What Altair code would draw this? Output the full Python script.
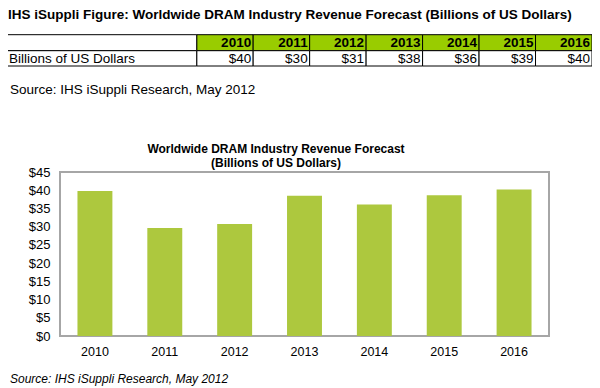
import altair as alt
import pandas as pd

years = ["2010", "2011", "2012", "2013", "2014", "2015", "2016"]
revenue = [39.8, 29.6, 30.7, 38.5, 36.1, 38.6, 40.2]
table_values = [40, 30, 31, 38, 36, 39, 40]
y_ticks = [0, 5, 10, 15, 20, 25, 30, 35, 40, 45]

main_title = "IHS iSuppli Figure: Worldwide DRAM Industry Revenue Forecast (Billions of US Dollars)"
row_label = "Billions of US Dollars"
source_text = "Source: IHS iSuppli Research, May 2012"
chart_title = ["Worldwide DRAM Industry Revenue Forecast", "(Billions of US Dollars)"]

FONT = "Liberation Sans"

df = pd.DataFrame({"year": years, "revenue": revenue,
                   "label": ["$" + str(v) for v in table_values]})

bars = alt.Chart(df).mark_bar(color="#adc83e").encode(
    x=alt.X("year:N", sort=years, title=None,
            scale=alt.Scale(paddingInner=0.5, paddingOuter=0.25),
            axis=alt.Axis(labelAngle=0, ticks=False, domain=False, labelPadding=9,
                          labelFontSize=12.5, labelColor="#000", labelFont=FONT)),
    y=alt.Y("revenue:Q", title=None,
            scale=alt.Scale(domain=[0, 45], nice=False),
            axis=alt.Axis(values=y_ticks, labelExpr="'$' + datum.value", grid=False,
                          ticks=False, domain=False, labelPadding=10,
                          labelFontSize=13, labelColor="#000", labelFont=FONT)),
)

TX_RANGE = [136.7, 532]
tx = alt.X("year:N", sort=years, axis=None,
           scale=alt.Scale(range=TX_RANGE, paddingInner=0, paddingOuter=0))
tx_end = alt.X("year:N", sort=years, axis=None, bandPosition=1,
               scale=alt.Scale(range=TX_RANGE, paddingInner=0, paddingOuter=0))

HDR_T, HDR_B, ROW_B = -137.3, -121.3, -106.0
TFS = 13.5

hdr_cells = alt.Chart(df).mark_rect(fill="#99cc00", stroke="#000", strokeWidth=1).encode(
    x=tx, y=alt.value(HDR_T), y2=alt.value(HDR_B))
val_cells = alt.Chart(df).mark_rect(fill="#ffffff", stroke="#000", strokeWidth=1).encode(
    x=tx, y=alt.value(HDR_B), y2=alt.value(ROW_B))
hdr_text = alt.Chart(df).mark_text(align="right", baseline="middle", dx=-2, fontSize=TFS,
                                   fontWeight="bold", font=FONT, color="#000").encode(
    x=tx_end, y=alt.value((HDR_T + HDR_B) / 2 + 0.5), text="year:N")
val_text = alt.Chart(df).mark_text(align="right", baseline="middle", dx=-2, fontSize=TFS,
                                   font=FONT, color="#000").encode(
    x=tx_end, y=alt.value((HDR_B + ROW_B) / 2 + 0.5), text="label:N")

one = pd.DataFrame({"t": [row_label]})
lab_hdr = alt.Chart(one).mark_rect(fill="#ffffff", stroke="#000", strokeWidth=1).encode(
    x=alt.value(-54.7), x2=alt.value(136.7), y=alt.value(HDR_T), y2=alt.value(HDR_B))
lab_row = alt.Chart(one).mark_rect(fill="#ffffff", stroke="#000", strokeWidth=1).encode(
    x=alt.value(-54.7), x2=alt.value(136.7), y=alt.value(HDR_B), y2=alt.value(ROW_B))
lab_text = alt.Chart(one).mark_text(align="left", baseline="middle", fontSize=TFS,
                                    font=FONT, color="#000").encode(
    x=alt.value(-51), y=alt.value((HDR_B + ROW_B) / 2 + 0.5), text="t:N")

t_main = alt.Chart(pd.DataFrame({"t": [main_title]})).mark_text(
    align="left", baseline="middle", fontSize=13.5, fontWeight="bold", font=FONT,
    color="#000").encode(x=alt.value(-52), y=alt.value(-157), text="t:N")
t_src1 = alt.Chart(pd.DataFrame({"t": [source_text]})).mark_text(
    align="left", baseline="middle", fontSize=13.5, font=FONT,
    color="#000").encode(x=alt.value(-50), y=alt.value(-82), text="t:N")
t_chart = alt.Chart(pd.DataFrame({"t": [chart_title]})).mark_text(
    align="center", baseline="middle", fontSize=12, fontWeight="bold", font=FONT,
    color="#000", lineHeight=14).encode(x=alt.value(216), y=alt.value(-23), text="t")
t_src2 = alt.Chart(pd.DataFrame({"t": [source_text]})).mark_text(
    align="left", baseline="middle", fontSize=12, font=FONT, fontStyle="italic",
    color="#000").encode(x=alt.value(-50), y=alt.value(207), text="t:N")

table = alt.layer(hdr_cells, val_cells, hdr_text, val_text)

chart = alt.layer(
    bars, table, lab_hdr, lab_row, lab_text, t_main, t_src1, t_chart, t_src2
).resolve_scale(x="independent").properties(
    width=489, height=164,
    autosize=alt.AutoSizeParams(type="none"),
    padding={"left": 52, "top": 164, "right": 43, "bottom": 60},
    background="#ffffff",
).configure_view(stroke="#a6a6a6", strokeWidth=2)

chart.save("out.html", embed_options={"renderer": "svg", "actions": False})
